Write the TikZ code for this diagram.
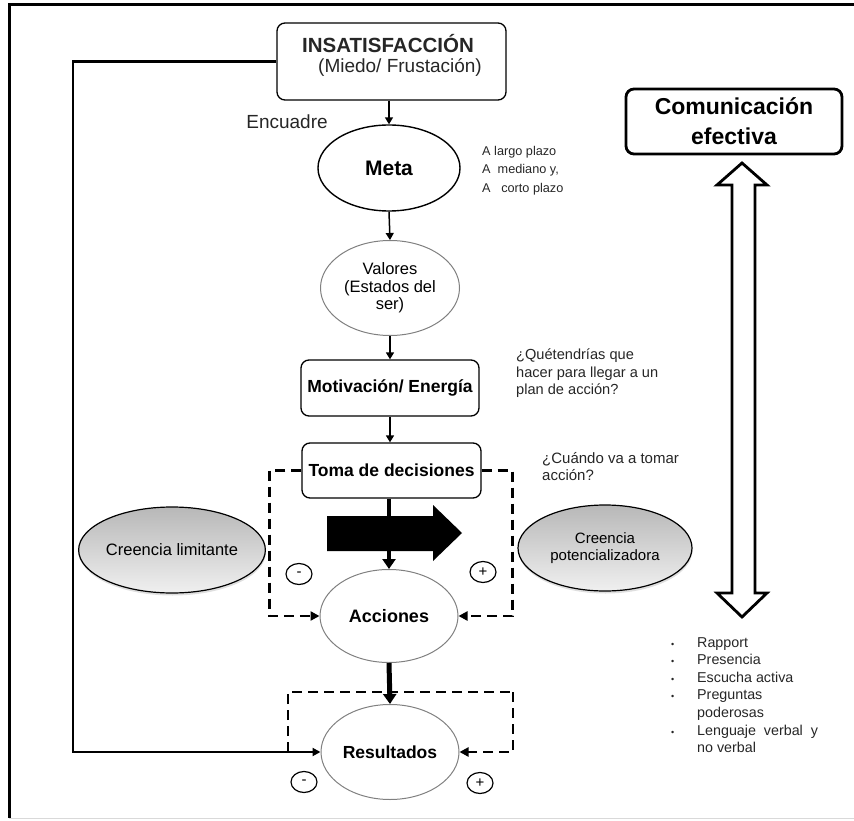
\documentclass[tikz,border=0pt]{standalone}
\usepackage{fontspec}
\setmainfont{Liberation Sans}
\usetikzlibrary{arrows.meta,shapes.geometric,shadows}
\newcommand{\fsz}[2]{\fontsize{#1}{#2}\selectfont}
\begin{document}
\begin{tikzpicture}[x=1pt,y=-1pt,
  box/.style={draw,rounded corners=8pt,line width=1.3pt,inner sep=0pt},
  ell/.style={ellipse,draw,inner sep=0pt},
  grayell/.style={ell,draw=black!50,line width=1pt},
  shadeell/.style={ell,line width=1.2pt,top color=black!28,bottom color=black!6,
    drop shadow={opacity=0.25,shadow xshift=0.5pt,shadow yshift=-2.5pt}},
  conn/.style={line width=1.5pt,-{Triangle[length=7pt,width=8pt]}},
  thick conn/.style={line width=4.5pt,-{Triangle[length=10pt,width=13pt]}},
  fb/.style={line width=2.2pt,-{Triangle[length=8pt,width=8pt]}},
  dline/.style={line width=2.6pt,dash pattern=on 10pt off 6pt},
  darr/.style={-{Triangle[length=9pt,width=9pt]}},
  pm/.style={ellipse,draw,line width=1.2pt,minimum width=26pt,minimum height=21pt,inner sep=0pt,font=\fsz{15}{15}},
  txt/.style={inner sep=0pt,text=black!85},
]
\useasboundingbox (0,0) rectangle (854,821);
% frame
\draw[line width=3pt] (854,5) -- (9,5) -- (9,818);
\draw[black!15,line width=1pt] (9,818) -- (854,818);

% top box
\node[box,minimum width=229pt,minimum height=77pt] (ins) at (391.5,61.5) {};
\node[txt,font=\fsz{20.5}{22}\bfseries] (insT) at (388,44) {INSATISFACCIÓN};
\node[txt,font=\fsz{19}{21}] (insS) at (400,67) {(Miedo/ Frustación)};

\node[txt,font=\fsz{19}{21}] (enc) at (287,122) {Encuadre};

% Meta
\node[ell,line width=1.4pt,minimum width=142pt,minimum height=86pt,font=\fsz{21}{22}\bfseries] (meta) at (389,168) {Meta};
\node[txt,anchor=west,align=left,font=\fsz{12.7}{18.5}] (plazo) at (482,170.5) {A largo plazo\\A\ \ mediano y,\\A\ \ \ corto plazo};

% Valores
\node[grayell,minimum width=139pt,minimum height=95pt,align=center,font=\fsz{16.5}{17.5}] (val) at (390,288) {Valores\\(Estados del\\ser)};

% Motivacion
\node[box,minimum width=178pt,minimum height=56pt,font=\fsz{17.5}{19}\bfseries] (mot) at (390,388) {Motivación/ Energía};
\node[txt,anchor=west,align=left,font=\fsz{14.6}{17.5}] (que) at (516,373.5) {¿Quétendrías que\\hacer para llegar a un\\plan de acción?};

% Toma de decisiones
\node[box,minimum width=179pt,minimum height=55pt,font=\fsz{17.5}{19}\bfseries] (toma) at (391.5,470.5) {Toma de decisiones};
\node[txt,anchor=west,align=left,font=\fsz{15}{17.5}] (cuando) at (542,466.5) {¿Cuándo va a tomar\\acción?};

% Creencias
\node[shadeell,minimum width=172pt,minimum height=86pt,font=\fsz{16.5}{17}] (cl) at (172,550) {Creencia limitante};
\node[shadeell,minimum width=174pt,minimum height=86pt,align=center,font=\fsz{15}{17}] (cp) at (605,548) {Creencia\\potencializadora};

% Acciones, Resultados
\node[grayell,minimum width=138pt,minimum height=93pt,font=\fsz{18}{19}\bfseries] (acc) at (389,616) {Acciones};
\node[grayell,minimum width=138pt,minimum height=95pt,font=\fsz{17.5}{19}\bfseries] (res) at (390,752) {Resultados};

% big black arrow
\fill (327,516) -- (433,516) -- (433,505) -- (462,533) -- (433,561) -- (433,551) -- (327,551) -- cycle;

% connectors
\draw[conn] (ins.south -| meta.north) -- (meta.north);
\draw[conn] (meta.south) -- (val.north);
\draw[conn] (val.south) -- (mot.north);
\draw[conn] (mot.south) -- (toma.north -| mot.south);
\draw[thick conn] (toma.south -| acc.north) -- (acc.north);
\draw[thick conn,line width=5pt] (acc.south) -- (res.north);

% feedback line
\coordinate (fbx) at (73,0);
\draw[fb] (ins.west) -- (ins.west -| fbx) |- (res.west);

% dashed loops
\draw[dline,darr] (toma.west) -- ++(-32,0) |- (acc.west);
\draw[dline,darr] (toma.east) -- ++(31,0) |- (acc.east);
\coordinate (rbl) at (288,752);
\coordinate (rtl) at (288,692);
\coordinate (rtr) at (513,692);
\draw[dline] (rbl) -- (rtl) -- (rtr);
\draw[dline,darr] (rtr) |- (res.east);

% plus minus
\node[pm] (m1) at (299,574) {-};
\node[pm] (p1) at (483,572) {+};
\node[pm] (m2) at (304,782) {-};
\node[pm] (p2) at (480,783) {+};

% Comunicacion efectiva
\node[box,line width=2.8pt,minimum width=216pt,minimum height=65pt,align=center,font=\fsz{23}{30}\bfseries] (com) at (734,121.5) {Comunicación\\efectiva};
\draw[line width=2.8pt,fill=white] (742,163) -- (767,185) -- (755,185) -- (755,593) -- (767,593) -- (742,617) -- (717,593) -- (732,593) -- (732,185) -- (717,185) -- cycle;

% bullet list
\node[txt,anchor=north west,align=left,font=\fsz{14.3}{17.6}] (list) at (671,637) {%
\makebox[26pt][l]{\fsz{9}{9}•}Rapport\\
\makebox[26pt][l]{\fsz{9}{9}•}Presencia\\
\makebox[26pt][l]{\fsz{9}{9}•}Escucha activa\\
\makebox[26pt][l]{\fsz{9}{9}•}Preguntas\\
\hspace*{26pt}poderosas\\
\makebox[26pt][l]{\fsz{9}{9}•}Lenguaje\ \ verbal\ \ y\\
\hspace*{26pt}no verbal};
\end{tikzpicture}
\end{document}
